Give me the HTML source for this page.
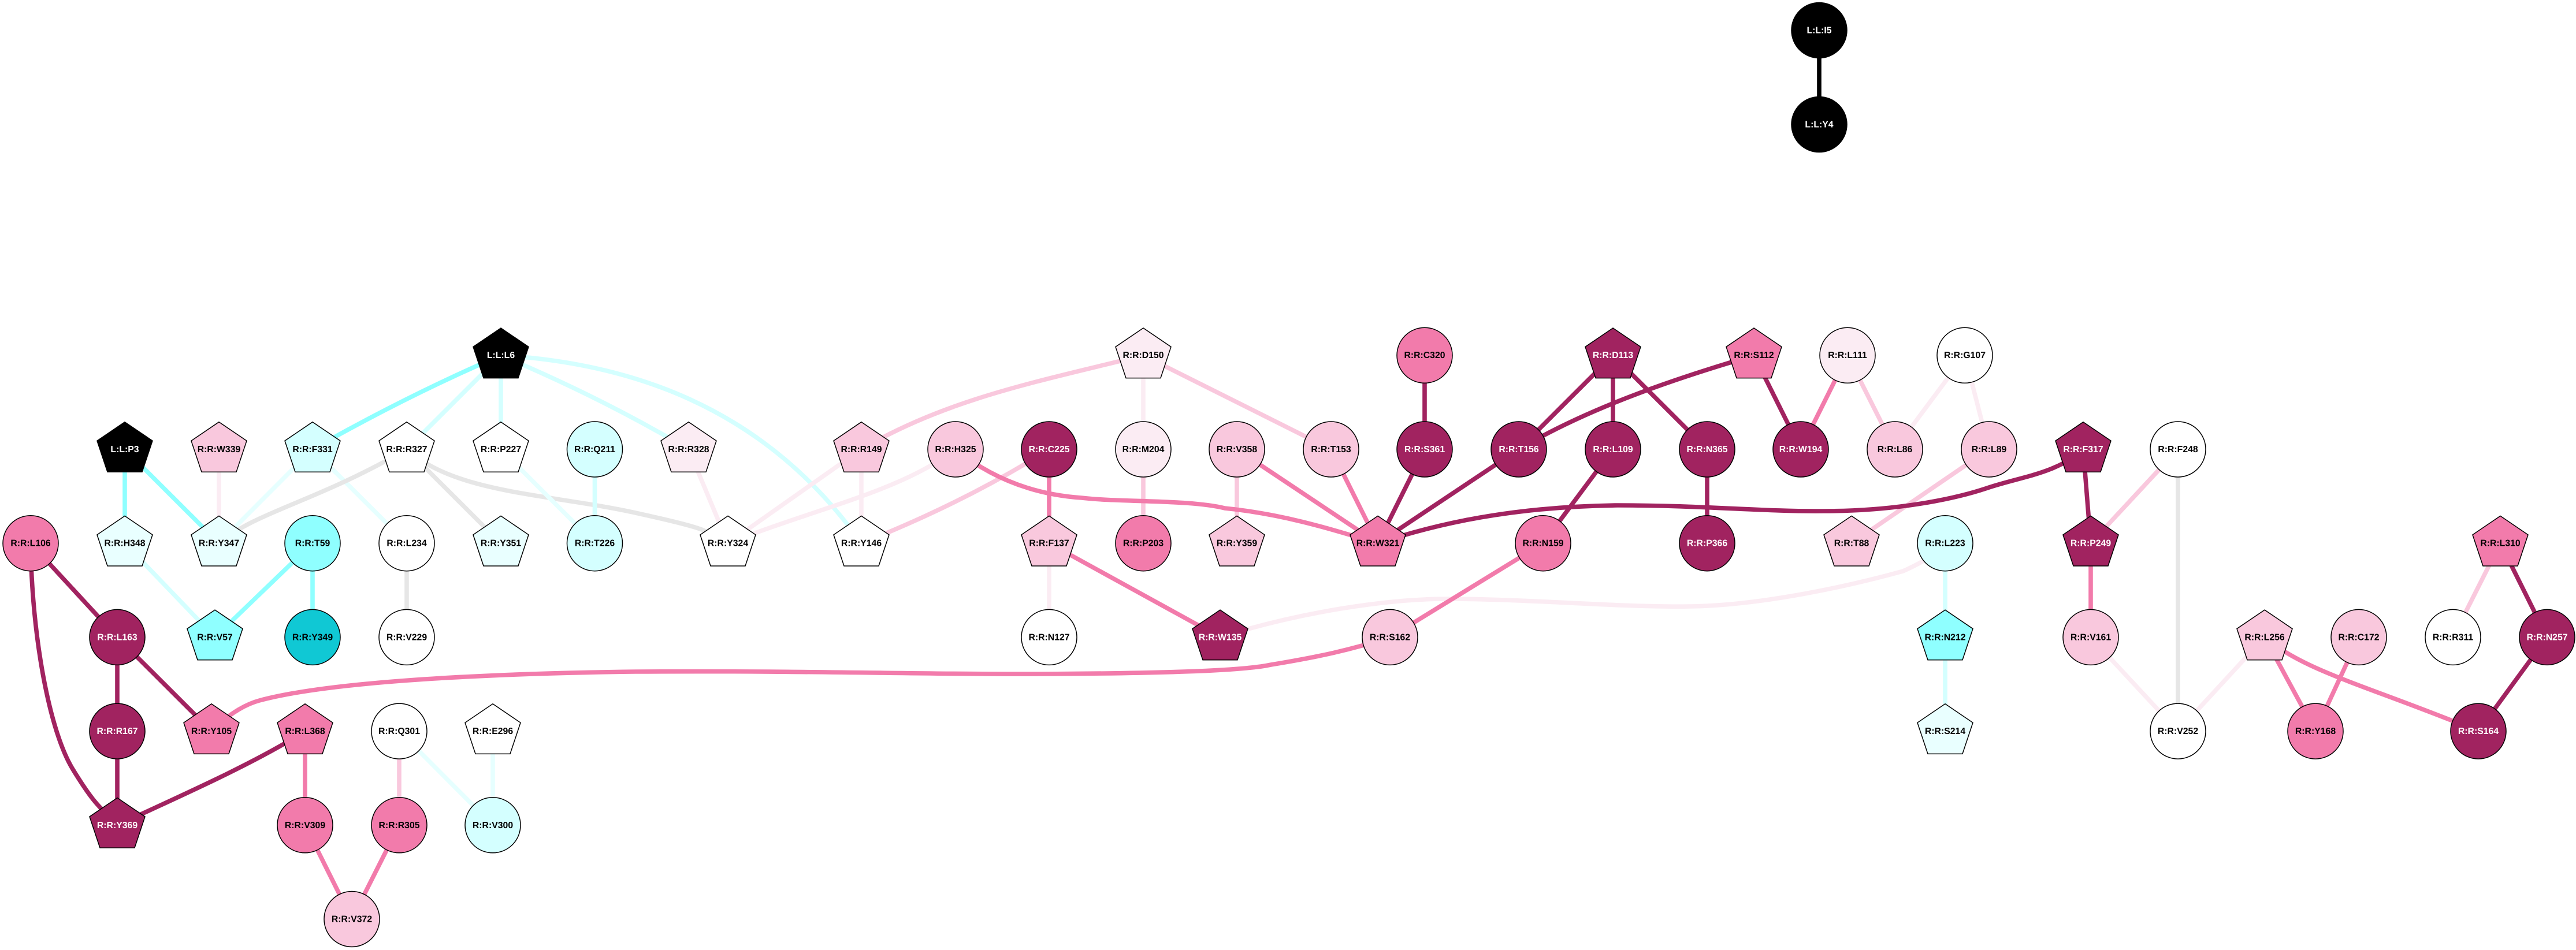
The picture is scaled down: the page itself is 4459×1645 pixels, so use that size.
<!DOCTYPE html>
<html><head><meta charset="utf-8"><style>
html,body{margin:0;padding:0;background:#fff}
svg{display:block}
.e path,.e line{fill:none;stroke-width:7.600}
.k{stroke:#000}.c{stroke:#8fffff}.d{stroke:#d4ffff}.f{stroke:#e6ffff}.g{stroke:#e6e6e6}.v{stroke:#fbecf3}.l{stroke:#f9c8dd}.p{stroke:#f27bab}.m{stroke:#a12360}
.n use,.n circle{stroke:#000;stroke-width:1.5}
.K{fill:#000}.C{fill:#8fffff}.D{fill:#d4ffff}.F{fill:#e9ffff}.W{fill:#fff}.V{fill:#fbecf3}.L{fill:#f9c8dd}.P{fill:#f27bab}.M{fill:#a12360}.T{fill:#10c8d4}
text{font-family:"Liberation Sans",sans-serif;font-weight:700;font-size:15.800px;text-anchor:middle;fill:#000;text-rendering:geometricPrecision}
text.w{fill:#fff}
</style></head><body>
<svg xmlns="http://www.w3.org/2000/svg" width="4459" height="1645" viewBox="0 0 4459 1645">
<defs><polygon id="p" points="0,-47.300 48,-14.700 30,39.300 -30,39.300 -48,-14.700"/></defs>
<rect width="4459" height="1645" fill="#fff"/>
<g class="e">
<line class="k" x1="3149" y1="52.500" x2="3149" y2="215.500"/>
<line class="v" x1="379" y1="778" x2="379" y2="940.700"/>
<line class="f" x1="541" y1="778" x2="379" y2="940.700"/>
<line class="f" x1="541" y1="778" x2="704" y2="940.700"/>
<line class="d" x1="867" y1="615.300" x2="704" y2="778"/>
<line class="d" x1="867" y1="615.300" x2="867" y2="778"/>
<path class="d" d="M867,615.300 Q1040,688 1192,778"/>
<path class="d" d="M867,615.300 C1080,628 1320,698 1491,940.700"/>
<path class="c" d="M867,615.300 Q709,683 541,778"/>
<line class="c" x1="216" y1="778" x2="216" y2="940.700"/>
<line class="c" x1="216" y1="778" x2="379" y2="940.700"/>
<path class="g" d="M379,940.700 C445,885 545,870 704,778"/>
<line class="g" x1="704" y1="778" x2="867" y2="940.700"/>
<path class="g" d="M704,778 C790,855 950,855 1100,888 S1210,918 1260,940.700"/>
<line class="f" x1="867" y1="778" x2="1029.500" y2="940.700"/>
<line class="d" x1="1029.500" y1="778" x2="1029.500" y2="940.700"/>
<line class="d" x1="216" y1="940.700" x2="372" y2="1103.400"/>
<line class="c" x1="541" y1="940.700" x2="372" y2="1103.400"/>
<line class="c" x1="541" y1="940.700" x2="541" y2="1103.400"/>
<line class="g" x1="704" y1="940.700" x2="704" y2="1103.400"/>
<line class="l" x1="691" y1="1266.100" x2="691" y2="1428.800"/>
<line class="f" x1="691" y1="1266.100" x2="853" y2="1428.800"/>
<line class="f" x1="853" y1="1266.100" x2="853" y2="1428.800"/>
<line class="v" x1="1192" y1="778" x2="1260" y2="940.700"/>
<line class="v" x1="1491" y1="778" x2="1260" y2="940.700"/>
<line class="v" x1="1491" y1="778" x2="1491" y2="940.700"/>
<path class="v" d="M1654,778 C1560,850 1420,878 1260,940.700"/>
<path class="l" d="M1816,778 Q1670,870 1491,940.700"/>
<path class="l" d="M1979,615.300 C1800,660 1640,690 1491,778"/>
<line class="v" x1="1979" y1="615.300" x2="1979" y2="778"/>
<line class="l" x1="1979" y1="615.300" x2="2304" y2="778"/>
<line class="l" x1="1979" y1="778" x2="1979" y2="940.700"/>
<line class="l" x1="2141" y1="778" x2="2141" y2="940.700"/>
<line class="v" x1="1816" y1="940.700" x2="1816" y2="1103.400"/>
<path class="v" d="M2112,1103.400 C2250,1060 2400,1037 2506,1037 C2650,1037 2800,1052 2927,1050 C3050,1048 3200,1015 3294,989 C3330,973 3350,960 3367,940.700"/>
<line class="d" x1="3367" y1="940.700" x2="3367" y2="1103.400"/>
<line class="d" x1="3367" y1="1103.400" x2="3367" y2="1266.100"/>
<line class="v" x1="3401" y1="615.300" x2="3280" y2="778"/>
<line class="v" x1="3401" y1="615.300" x2="3443" y2="778"/>
<line class="l" x1="3198" y1="615.300" x2="3280" y2="778"/>
<line class="l" x1="3443" y1="778" x2="3205" y2="940.700"/>
<line class="l" x1="3770" y1="778" x2="3619" y2="940.700"/>
<line class="g" x1="3770" y1="778" x2="3770" y2="1266.100"/>
<line class="v" x1="3619" y1="1103.400" x2="3770" y2="1266.100"/>
<line class="v" x1="3920" y1="1103.400" x2="3770" y2="1266.100"/>
<line class="l" x1="4328" y1="940.700" x2="4246" y2="1103.400"/>
<line class="p" x1="528" y1="1266.100" x2="528" y2="1428.800"/>
<line class="p" x1="528" y1="1428.800" x2="609" y2="1591.500"/>
<line class="p" x1="691" y1="1428.800" x2="609" y2="1591.500"/>
<line class="p" x1="1816" y1="778" x2="1816" y2="940.700"/>
<line class="p" x1="1816" y1="940.700" x2="2112" y2="1103.400"/>
<path class="p" d="M1654,778 C1700,815 1770,855 1872,862 C1940,870 2060,865 2120,880 C2220,890 2300,915 2385,940.700"/>
<line class="p" x1="2141" y1="778" x2="2385" y2="940.700"/>
<line class="p" x1="2304" y1="778" x2="2385" y2="940.700"/>
<line class="p" x1="3198" y1="615.300" x2="3117" y2="778"/>
<line class="p" x1="2671" y1="940.700" x2="2406" y2="1103.400"/>
<path class="p" d="M366,1266.100 C400,1232 430,1218 449,1213 C560,1183 800,1167 1100,1163 C1400,1161 1600,1168 1802,1167 C2000,1166 2150,1162 2200,1151 C2280,1138 2340,1125 2406,1103.400"/>
<line class="p" x1="3619" y1="940.700" x2="3619" y2="1103.400"/>
<line class="p" x1="3920" y1="1103.400" x2="4008" y2="1266.100"/>
<line class="p" x1="4083" y1="1103.400" x2="4008" y2="1266.100"/>
<path class="p" d="M3920,1103.400 C3990,1163 4100,1188 4290,1266.100"/>
<line class="m" x1="53" y1="940.700" x2="203" y2="1103.400"/>
<path class="m" d="M53,940.700 C55,1100 85,1265 126,1332 S175,1398 203,1428.800"/>
<line class="m" x1="203" y1="1103.400" x2="203" y2="1266.100"/>
<line class="m" x1="203" y1="1103.400" x2="366" y2="1266.100"/>
<line class="m" x1="203" y1="1266.100" x2="203" y2="1428.800"/>
<path class="m" d="M528,1266.100 C450,1316 340,1366 203,1428.800"/>
<line class="m" x1="2466" y1="615.300" x2="2466" y2="778"/>
<line class="m" x1="2466" y1="778" x2="2385" y2="940.700"/>
<line class="m" x1="2629" y1="778" x2="2385" y2="940.700"/>
<line class="m" x1="2792" y1="615.300" x2="2629" y2="778"/>
<line class="m" x1="2792" y1="615.300" x2="2792" y2="778"/>
<line class="m" x1="2792" y1="615.300" x2="2955" y2="778"/>
<path class="m" d="M3036,615.300 C2920,650 2760,700 2629,778"/>
<line class="m" x1="3036" y1="615.300" x2="3117" y2="778"/>
<line class="m" x1="2792" y1="778" x2="2671" y2="940.700"/>
<line class="m" x1="2955" y1="778" x2="2955" y2="940.700"/>
<path class="m" d="M2385,940.700 C2450,920 2580,878 2800,875 C2950,875 3050,886 3156,885 C3280,885 3380,865 3440,845 C3500,825 3560,820 3606,778"/>
<line class="m" x1="3606" y1="778" x2="3619" y2="940.700"/>
<line class="m" x1="4328" y1="940.700" x2="4409" y2="1103.400"/>
<line class="m" x1="4409" y1="1103.400" x2="4290" y2="1266.100"/>
</g>
<g class="n">
<circle class="K" cx="3149" cy="52.500" r="48"/><circle class="K" cx="3149" cy="215.500" r="48"/>
<use href="#p" x="867" y="615.300" class="K"/><use href="#p" x="216" y="778" class="K"/>
<use href="#p" x="379" y="778" class="L"/><use href="#p" x="541" y="778" class="D"/><use href="#p" x="704" y="778" class="W"/><use href="#p" x="867" y="778" class="W"/>
<circle cx="1029.500" cy="778" r="48" class="D"/><circle cx="1029.500" cy="940.700" r="48" class="D"/>
<circle cx="53" cy="940.700" r="48" class="P"/>
<use href="#p" x="216" y="940.700" class="F"/><use href="#p" x="379" y="940.700" class="F"/>
<circle cx="541" cy="940.700" r="48" class="C"/><circle cx="704" cy="940.700" r="48" class="W"/>
<use href="#p" x="867" y="940.700" class="F"/>
<circle cx="203" cy="1103.400" r="48" class="M"/><use href="#p" x="372" y="1103.400" class="C"/>
<circle cx="541" cy="1103.400" r="48" class="T"/><circle cx="704" cy="1103.400" r="48" class="W"/>
<circle cx="203" cy="1266.100" r="48" class="M"/><use href="#p" x="366" y="1266.100" class="P"/><use href="#p" x="528" y="1266.100" class="P"/>
<circle cx="691" cy="1266.100" r="48" class="W"/><use href="#p" x="853" y="1266.100" class="W"/>
<use href="#p" x="203" y="1428.800" class="M"/><circle cx="528" cy="1428.800" r="48" class="P"/><circle cx="691" cy="1428.800" r="48" class="P"/><circle cx="853" cy="1428.800" r="48" class="D"/>
<circle cx="609" cy="1591.500" r="48" class="L"/>
<use href="#p" x="1979" y="615.300" class="V"/>
<use href="#p" x="1192" y="778" class="V"/><use href="#p" x="1491" y="778" class="L"/>
<circle cx="1654" cy="778" r="48" class="L"/><circle cx="1816" cy="778" r="48" class="M"/><circle cx="1979" cy="778" r="48" class="V"/><circle cx="2141" cy="778" r="48" class="L"/>
<use href="#p" x="1260" y="940.700" class="W"/><use href="#p" x="1491" y="940.700" class="W"/><use href="#p" x="1816" y="940.700" class="L"/>
<circle cx="1979" cy="940.700" r="48" class="P"/><use href="#p" x="2141" y="940.700" class="L"/>
<circle cx="1816" cy="1103.400" r="48" class="W"/><use href="#p" x="2112" y="1103.400" class="M"/>
<circle cx="2466" cy="615.300" r="48" class="P"/><use href="#p" x="2792" y="615.300" class="M"/><use href="#p" x="3036" y="615.300" class="P"/>
<circle cx="3198" cy="615.300" r="48" class="V"/><circle cx="3401" cy="615.300" r="48" class="W"/>
<circle cx="2304" cy="778" r="48" class="L"/><circle cx="2466" cy="778" r="48" class="M"/><circle cx="2629" cy="778" r="48" class="M"/><circle cx="2792" cy="778" r="48" class="M"/><circle cx="2955" cy="778" r="48" class="M"/><circle cx="3117" cy="778" r="48" class="M"/><circle cx="3280" cy="778" r="48" class="L"/><circle cx="3443" cy="778" r="48" class="L"/>
<use href="#p" x="3606" y="778" class="M"/><circle cx="3770" cy="778" r="48" class="W"/>
<use href="#p" x="2385" y="940.700" class="P"/><circle cx="2671" cy="940.700" r="48" class="P"/><circle cx="2955" cy="940.700" r="48" class="M"/>
<use href="#p" x="3205" y="940.700" class="L"/><circle cx="3367" cy="940.700" r="48" class="D"/>
<use href="#p" x="3619" y="940.700" class="M"/><use href="#p" x="4328" y="940.700" class="P"/>
<circle cx="2406" cy="1103.400" r="48" class="L"/><use href="#p" x="3367" y="1103.400" class="C"/><circle cx="3619" cy="1103.400" r="48" class="L"/>
<use href="#p" x="3920" y="1103.400" class="L"/><circle cx="4083" cy="1103.400" r="48" class="L"/><circle cx="4246" cy="1103.400" r="48" class="W"/><circle cx="4409" cy="1103.400" r="48" class="M"/>
<use href="#p" x="3367" y="1266.100" class="F"/><circle cx="3770" cy="1266.100" r="48" class="W"/><circle cx="4008" cy="1266.100" r="48" class="P"/><circle cx="4290" cy="1266.100" r="48" class="M"/>
</g>
<g>
<text class="w" x="3149" y="57.500">L:L:I5</text><text class="w" x="3149" y="220.500">L:L:Y4</text>
<text class="w" x="867" y="620">L:L:L6</text><text class="w" x="216" y="783">L:L:P3</text>
<text x="379" y="783">R:R:W339</text><text x="541" y="783">R:R:F331</text><text x="704" y="783">R:R:R327</text><text x="867" y="783">R:R:P227</text><text x="1029.500" y="783">R:R:Q211</text>
<text x="1029.500" y="945.700">R:R:T226</text><text x="53" y="945.700">R:R:L106</text><text x="216" y="945.700">R:R:H348</text><text x="379" y="945.700">R:R:Y347</text><text x="541" y="945.700">R:R:T59</text><text x="704" y="945.700">R:R:L234</text><text x="867" y="945.700">R:R:Y351</text>
<text class="w" x="203" y="1108.400">R:R:L163</text><text x="372" y="1108.400">R:R:V57</text><text x="541" y="1108.400">R:R:Y349</text><text x="704" y="1108.400">R:R:V229</text>
<text class="w" x="203" y="1271">R:R:R167</text><text x="366" y="1271">R:R:Y105</text><text x="528" y="1271">R:R:L368</text><text x="691" y="1271">R:R:Q301</text><text x="853" y="1271">R:R:E296</text>
<text class="w" x="203" y="1433.800">R:R:Y369</text><text x="528" y="1433.800">R:R:V309</text><text x="691" y="1433.800">R:R:R305</text><text x="853" y="1433.800">R:R:V300</text>
<text x="609" y="1596.500">R:R:V372</text>
<text x="1979" y="620">R:R:D150</text>
<text x="1192" y="783">R:R:R328</text><text x="1491" y="783">R:R:R149</text><text x="1654" y="783">R:R:H325</text><text class="w" x="1816" y="783">R:R:C225</text><text x="1979" y="783">R:R:M204</text><text x="2141" y="783">R:R:V358</text>
<text x="1260" y="945.700">R:R:Y324</text><text x="1491" y="945.700">R:R:Y146</text><text x="1816" y="945.700">R:R:F137</text><text x="1979" y="945.700">R:R:P203</text><text x="2141" y="945.700">R:R:Y359</text>
<text x="1816" y="1108.400">R:R:N127</text><text class="w" x="2112" y="1108.400">R:R:W135</text>
<text x="2466" y="620">R:R:C320</text><text class="w" x="2792" y="620">R:R:D113</text><text x="3036" y="620">R:R:S112</text><text x="3198" y="620">R:R:L111</text><text x="3401" y="620">R:R:G107</text>
<text x="2304" y="783">R:R:T153</text><text class="w" x="2466" y="783">R:R:S361</text><text class="w" x="2629" y="783">R:R:T156</text><text class="w" x="2792" y="783">R:R:L109</text><text class="w" x="2955" y="783">R:R:N365</text><text class="w" x="3117" y="783">R:R:W194</text><text x="3280" y="783">R:R:L86</text><text x="3443" y="783">R:R:L89</text><text class="w" x="3606" y="783">R:R:F317</text><text x="3770" y="783">R:R:F248</text>
<text x="2385" y="945.700">R:R:W321</text><text x="2671" y="945.700">R:R:N159</text><text class="w" x="2955" y="945.700">R:R:P366</text><text x="3205" y="945.700">R:R:T88</text><text x="3367" y="945.700">R:R:L223</text><text class="w" x="3619" y="945.700">R:R:P249</text><text x="4328" y="945.700">R:R:L310</text>
<text x="2406" y="1108.400">R:R:S162</text><text x="3367" y="1108.400">R:R:N212</text><text x="3619" y="1108.400">R:R:V161</text><text x="3920" y="1108.400">R:R:L256</text><text x="4083" y="1108.400">R:R:C172</text><text x="4246" y="1108.400">R:R:R311</text><text class="w" x="4409" y="1108.400">R:R:N257</text>
<text x="3367" y="1271">R:R:S214</text><text x="3770" y="1271">R:R:V252</text><text x="4008" y="1271">R:R:Y168</text><text class="w" x="4290" y="1271">R:R:S164</text>
</g>
</svg>
</body></html>
